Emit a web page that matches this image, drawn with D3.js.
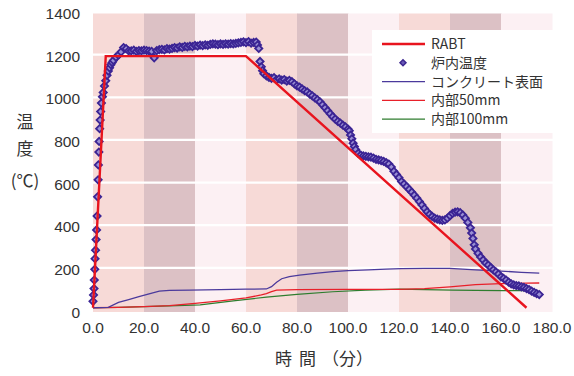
<!DOCTYPE html>
<html>
<head>
<meta charset="utf-8">
<script src="https://cdn.jsdelivr.net/npm/d3@7"></script>
<style>
  body { margin: 0; background: #fff; }
  svg { display: block; }
  text { font-family: "Liberation Sans", Arial, sans-serif; }
  .jp { font-family: "Noto Sans CJK JP", sans-serif; }
</style>
</head>
<body>
<svg id="chart" width="574" height="376"></svg>
<script>
// RABT standard curve
const rabtTime = [0, 5, 60, 170];
const rabtTemp = [20, 1200, 1200, 20];

// furnace temperature (炉内温度)
const furnaceTime = [0, 0.2, 0.4, 0.5, 0.7, 0.8, 1, 1.2, 1.4, 1.6, 1.8, 2, 2.1, 2.3, 2.4, 2.6, 2.8, 3, 3.3, 3.7,
  4, 4.5, 5, 5.5, 6, 6.5, 7, 7.5, 8, 9, 10, 11, 12, 13, 14, 15, 16, 17, 18, 19,
  20, 21, 22, 23, 24, 25, 26, 27, 28, 29, 30, 31, 32, 33, 34, 35, 36, 37, 38, 39,
  40, 41, 42, 43, 44, 45, 46, 47, 48, 49, 50, 51, 52, 53, 54, 55, 56, 57, 58, 59,
  60, 61, 62, 63, 64, 64.5, 65, 65.5, 66, 66.5, 67, 68, 69, 70, 71, 72, 73, 74, 75, 76,
  77, 78, 79, 80, 81, 82, 83, 84, 85, 86, 87, 88, 89, 90, 91, 92, 93, 94, 95, 96,
  97, 98, 99, 100, 100.5, 101, 101.5, 102, 102.5, 103, 104, 105, 106, 107, 108, 109, 110, 111, 112, 113, 114, 115, 116,
  117, 118, 119, 120, 121, 122, 123, 124, 125, 126, 127, 128, 129, 130, 131, 132, 133, 134, 135, 136,
  137, 138, 139, 140, 141, 142, 143, 144, 145, 146, 147, 148, 148.5, 149, 149.5, 150, 151, 152, 153, 154,
  155, 156, 157, 158, 159, 160, 161, 162, 163, 164, 165, 166, 167, 168, 169, 170, 171, 172, 173, 174, 175];
const furnaceTemp = [50, 80, 110, 150, 200, 250, 290, 340, 385, 450, 540, 620, 690, 750, 800, 860, 900, 940, 980, 1010,
  1030, 1060, 1085, 1110, 1130, 1145, 1160, 1170, 1180, 1195, 1205, 1220, 1240, 1235, 1225, 1225, 1228, 1222, 1226, 1225,
  1228, 1226, 1224, 1222, 1192, 1226, 1230, 1232, 1229, 1235, 1233, 1236, 1240, 1238, 1244, 1241, 1246, 1243, 1247, 1245,
  1250, 1247, 1252, 1249, 1253, 1251, 1255, 1258, 1256, 1254, 1257, 1255, 1258, 1256, 1259, 1257, 1260, 1262, 1264, 1267,
  1263, 1268, 1261, 1264, 1266, 1252, 1236, 1175, 1150, 1132, 1118, 1108, 1100, 1096, 1099, 1090, 1093, 1088, 1090, 1083,
  1086, 1080, 1070, 1060, 1055, 1046, 1038, 1032, 1022, 1014, 1004, 996, 986, 972, 958, 944, 930, 916, 905, 894,
  886, 876, 868, 858, 850, 830, 812, 792, 776, 762, 744, 736, 732, 730, 728, 726, 722, 716, 713, 710, 706, 700, 694,
  680, 660, 645, 630, 612, 600, 588, 575, 562, 548, 534, 518, 502, 486, 470, 458, 448, 440, 436, 432,
  430, 432, 440, 452, 462, 468, 470, 466, 455, 440, 420, 395, 370, 345, 315, 295, 275, 258, 244, 230,
  220, 208, 198, 188, 178, 165, 158, 150, 140, 132, 127, 124, 122, 118, 115, 110, 105, 98, 92, 86, 82];

// コンクリート表面
const surfaceTime = [0, 6, 10, 14, 18, 22, 26, 30, 38, 50, 60, 68, 70, 72, 74, 77, 81, 88, 94, 100, 108, 115, 121, 130, 140, 150, 160, 168, 175];
const surfaceTemp = [20, 22, 45, 58, 72, 85, 98, 101, 103, 105, 107, 108, 119, 140, 156, 166, 173, 182, 189, 194, 198, 201, 203, 205, 205, 198, 192, 186, 182];

// 内部50mm
const mid50Time = [0, 10, 20, 30, 40, 50, 60, 66, 68, 70, 72, 80, 100, 120, 130, 140, 150, 160, 170, 175];
const mid50Temp = [20, 22, 25, 30, 40, 52, 66, 80, 86, 96, 103, 105, 106, 106, 110, 118, 128, 133, 135, 136];

// 内部100mm
const mid100Time = [0, 10, 20, 30, 42, 55, 68, 80, 94, 107, 120, 130, 141, 150, 161, 171];
const mid100Temp = [20, 22, 25, 29, 33, 52, 70, 83, 95, 103, 107, 105, 103, 101, 100, 100];

const xTicks = [0, 20, 40, 60, 80, 100, 120, 140, 160, 180];
const yTicks = [0, 200, 400, 600, 800, 1000, 1200, 1400];
const bandColors = ['#f7dad7', '#dcc1c5', '#fcf0f3'];

const svg = d3.select('#chart');

const x = d3.scaleLinear().domain([0, 180]).range([93, 552]);
const y = d3.scaleLinear().domain([0, 1400]).range([312, 13.5]);

// background column bands
const bands = d3.range(0, 180, 20);
svg.append('g')
  .selectAll('rect')
  .data(bands)
  .enter().append('rect')
  .attr('x', function (d) { return x(d); })
  .attr('width', x(20) - x(0) + 0.5)
  .attr('y', y(1400))
  .attr('height', y(0) - y(1400))
  .attr('fill', function (d, i) { return bandColors[i % 3]; });

// white grid lines
svg.append('g')
  .selectAll('line')
  .data(yTicks.slice(1, -1))
  .enter().append('line')
  .attr('x1', x(0)).attr('x2', x(180) + 2)
  .attr('y1', function (d) { return y(d) - 1.5; })
  .attr('y2', function (d) { return y(d) - 1.5; })
  .attr('stroke', '#fff')
  .attr('stroke-width', 2.2);

// axes labels
svg.append('g')
  .selectAll('text')
  .data(yTicks)
  .enter().append('text')
  .attr('x', 80)
  .attr('y', function (d) { return y(d) + 5.5; })
  .attr('text-anchor', 'end')
  .attr('font-size', '15.5px')
  .attr('fill', '#333')
  .text(function (d) { return d; });

svg.append('g')
  .selectAll('text')
  .data(xTicks)
  .enter().append('text')
  .attr('x', function (d) { return x(d); })
  .attr('y', 333)
  .attr('text-anchor', 'middle')
  .attr('font-size', '15.5px')
  .attr('fill', '#333')
  .text(function (d) { return d3.format('.1f')(d); });

const ylab = svg.append('g').attr('fill', '#333').attr('font-size', '17px');
ylab.append('text').attr('class', 'jp').attr('x', 25).attr('y', 128).attr('text-anchor', 'middle').text('温');
ylab.append('text').attr('class', 'jp').attr('x', 25).attr('y', 155).attr('text-anchor', 'middle').text('度');
ylab.append('text').attr('class', 'jp').attr('x', 25).attr('y', 187).attr('text-anchor', 'middle').text('(℃)');

// x title, pieces spaced like the original
const xlab = svg.append('g').attr('fill', '#333').attr('font-size', '17px');
xlab.append('text').attr('class', 'jp').attr('x', 275).attr('y', 365).text('時');
xlab.append('text').attr('class', 'jp').attr('x', 299).attr('y', 365).text('間');
xlab.append('text').attr('class', 'jp').attr('x', 322).attr('y', 365).text('（分）');

// series lines
function pairs(ts, vs) { return ts.map(function (t, i) { return [t, vs[i]]; }); }
const line = d3.line()
  .x(function (d) { return x(d[0]); })
  .y(function (d) { return y(d[1]); });

svg.append('path').datum(pairs(mid100Time, mid100Temp))
  .attr('d', line).attr('fill', 'none').attr('stroke', '#2e7d2e').attr('stroke-width', 1.2);
svg.append('path').datum(pairs(mid50Time, mid50Temp))
  .attr('d', line).attr('fill', 'none').attr('stroke', '#e8202a').attr('stroke-width', 1.3);
svg.append('path').datum(pairs(surfaceTime, surfaceTemp))
  .attr('d', line).attr('fill', 'none').attr('stroke', '#4b3a9c').attr('stroke-width', 1.3);

// furnace markers (small rotated squares)
const marker = d3.symbol().type(d3.symbolSquare).size(26);
svg.append('g')
  .selectAll('path')
  .data(pairs(furnaceTime, furnaceTemp))
  .enter().append('path')
  .attr('d', marker)
  .attr('transform', function (d) { return 'translate(' + x(d[0]) + ',' + y(d[1]) + ') rotate(45)'; })
  .attr('fill', '#9a8fd4')
  .attr('stroke', '#3b2494')
  .attr('stroke-width', 1.8);

svg.append('path').datum(pairs(rabtTime, rabtTemp))
  .attr('d', line).attr('fill', 'none').attr('stroke', '#e8141e').attr('stroke-width', 2.4);

// legend
const legend = svg.append('g');
legend.append('rect')
  .attr('x', 372).attr('y', 30).attr('width', 181).attr('height', 103)
  .attr('fill', '#fff');
const legendItems = [
  { name: 'RABT', color: '#e8141e', w: 2.6, marker: false },
  { name: '炉内温度', color: '#3d2790', w: 0, marker: true },
  { name: 'コンクリート表面', color: '#4b3a9c', w: 1.2, marker: false },
  { name: '内部50mm', color: '#e8202a', w: 1.2, marker: false },
  { name: '内部100mm', color: '#2e7d2e', w: 1.2, marker: false }
];
legendItems.forEach(function (it, i) {
  const ly = 44 + i * 18.8;
  if (it.marker) {
    legend.append('path').attr('d', d3.symbol().type(d3.symbolSquare).size(18))
      .attr('transform', 'translate(403,' + ly + ') rotate(45)')
      .attr('fill', '#6a5ab8').attr('stroke', '#3d2790').attr('stroke-width', 1.5);
  } else {
    legend.append('line').attr('x1', 382).attr('x2', 425).attr('y1', ly).attr('y2', ly)
      .attr('stroke', it.color).attr('stroke-width', it.w);
  }
  legend.append('text').attr('class', 'jp')
    .attr('x', 431).attr('y', ly + 5)
    .attr('font-size', '14px').attr('fill', '#333')
    .text(it.name);
});
</script>
</body>
</html>
